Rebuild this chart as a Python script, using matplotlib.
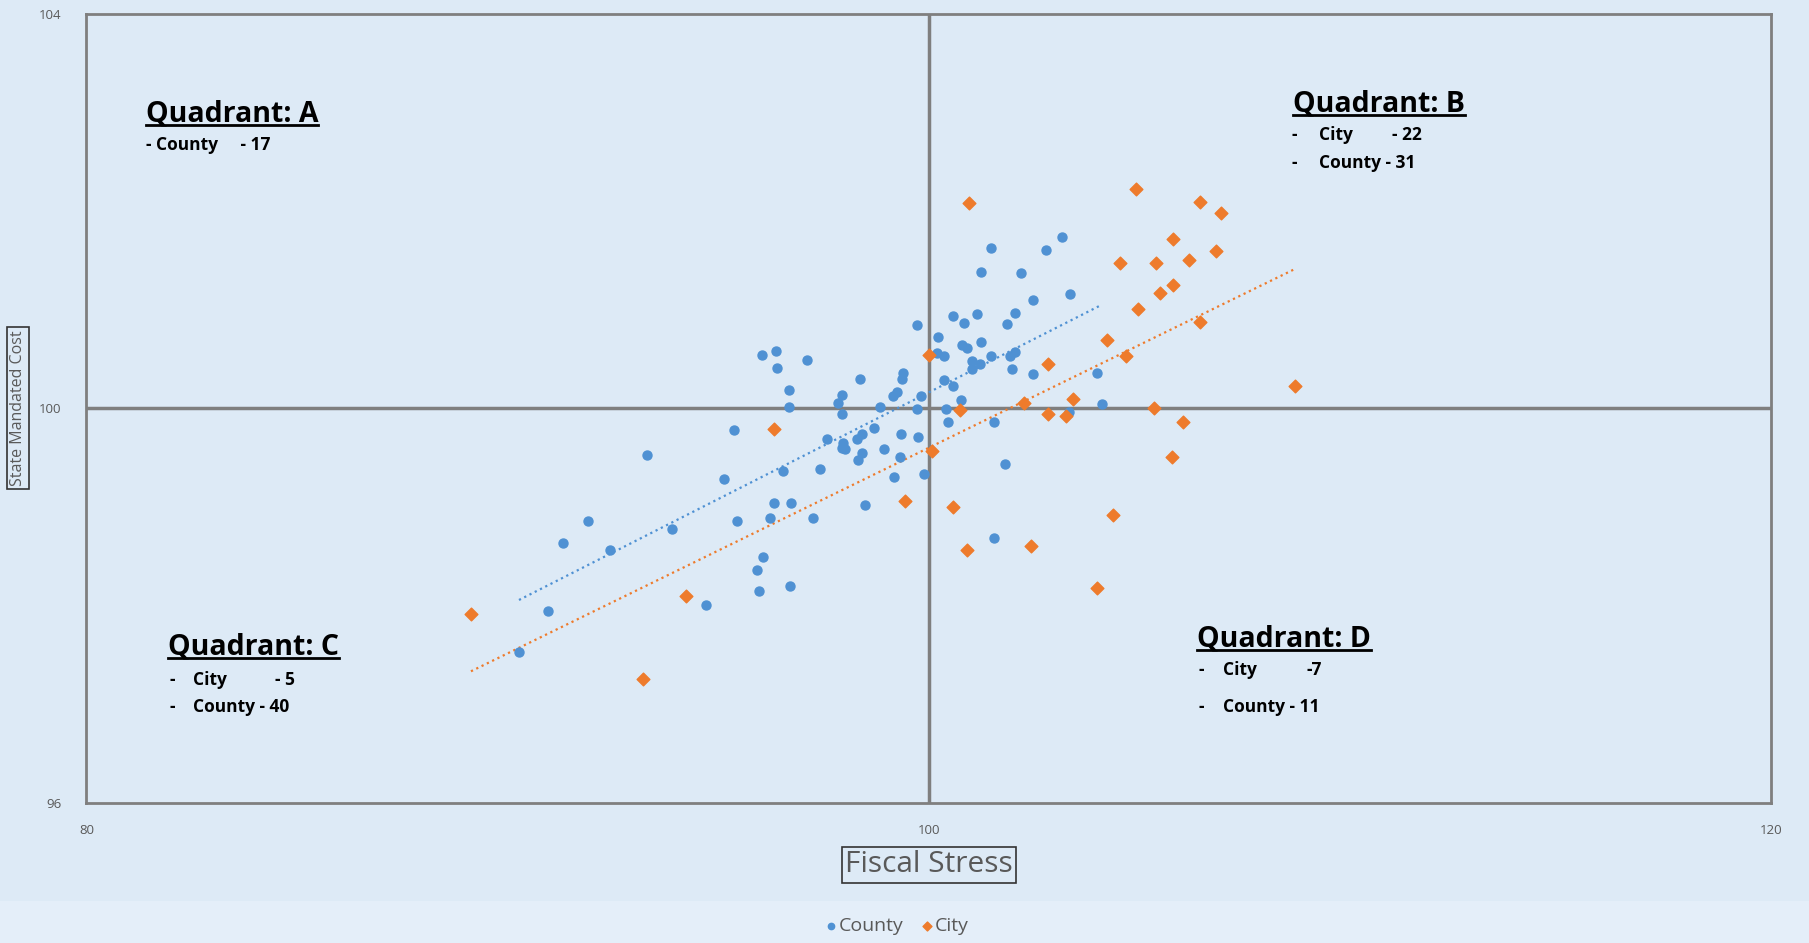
import matplotlib.pyplot as plt
import numpy as np
from matplotlib.lines import Line2D
from matplotlib.patches import Rectangle

plt.rcParams['font.family'] = ['Open Sans', 'DejaVu Sans']

# County (blue) points: fiscal stress, state mandated cost
county_x = [90.27, 90.97, 91.31, 91.92, 92.43, 93.30, 93.91, 94.71, 95.15, 95.38,
            95.45, 95.93, 95.97, 96.03, 96.06, 96.23, 96.33, 96.37, 96.40, 96.53,
            96.67, 96.68, 96.71, 96.72, 97.12, 97.26, 97.42, 97.59, 97.85, 97.93,
            97.93, 97.93, 97.97, 98.01, 98.30, 98.33, 98.37, 98.41, 98.41, 98.49,
            98.71, 98.84, 98.94, 99.14, 99.17, 99.24, 99.32, 99.33, 99.37, 99.40,
            99.71, 99.73, 99.75, 99.81, 99.89, 100.23, 100.20, 100.36, 100.36, 100.40,
            100.46, 100.57, 100.58, 100.76, 100.78, 100.84, 100.90, 101.02, 101.02, 101.14,
            101.22, 101.23, 101.23, 101.47, 101.47, 101.55, 101.55, 101.81, 101.87, 101.93,
            101.97, 102.05, 102.05, 102.18, 102.47, 102.47, 102.78, 103.16, 103.34, 103.36,
            104.00, 104.11]
county_y = [97.53, 97.95, 98.64, 98.86, 98.56, 99.53, 98.78, 98.01, 99.28, 99.78,
            98.86, 98.36, 98.15, 100.54, 98.49, 98.89, 99.04, 100.58, 100.41, 99.37,
            100.01, 100.19, 98.20, 99.04, 100.49, 98.89, 99.39, 99.69, 100.06, 100.14,
            99.94, 99.60, 99.65, 99.59, 99.69, 99.48, 100.30, 99.74, 99.55, 99.02,
            99.80, 100.01, 99.59, 100.13, 99.30, 100.17, 99.51, 99.74, 100.30, 100.36,
            100.85, 99.99, 99.71, 100.13, 99.34, 100.72, 100.56, 100.29, 100.53, 99.99,
            99.86, 100.23, 100.94, 100.09, 100.64, 100.87, 100.61, 100.48, 100.40, 100.96,
            100.45, 101.38, 100.67, 101.63, 100.53, 99.86, 98.69, 99.44, 100.86, 100.53,
            100.40, 100.97, 100.57, 101.37, 101.10, 100.35, 101.61, 101.74, 99.96, 101.16,
            100.36, 100.05]

# City (orange) points
city_x = [89.13, 93.21, 94.24, 96.33, 99.44, 100.01, 100.07, 100.58, 100.74, 100.90,
          100.96, 102.26, 102.42, 102.83, 102.83, 103.26, 103.42, 104.00, 104.24, 104.38,
          104.54, 104.68, 104.92, 104.96, 105.35, 105.39, 105.49, 105.77, 105.79, 105.81,
          106.04, 106.17, 106.44, 106.44, 106.81, 106.94, 108.70]
city_y = [97.92, 97.26, 98.10, 99.79, 99.06, 100.54, 99.57, 99.00, 99.98, 98.56,
          102.08, 100.06, 98.61, 100.45, 99.94, 99.92, 100.10, 98.18, 100.69, 98.92,
          101.47, 100.53, 102.23, 101.01, 100.00, 101.47, 101.17, 99.51, 101.72, 101.25,
          99.86, 101.51, 102.09, 100.88, 101.60, 101.98, 100.23]

x_ticks = [80, 100, 120]
y_ticks = [96, 100, 104]

BLUE = '#4F91D3'
ORANGE = '#EE7B2C'
BG = '#DDEAF6'
GRAY = '#7F7F7F'

fig = plt.figure(figsize=(18.09, 9.43), dpi=100)
fig.patch.set_facecolor(BG)
fig.add_artist(Rectangle((0, 0), 1, 0.045, transform=fig.transFigure,
                         facecolor='#E4EEF9', edgecolor='none', zorder=0))

ax = fig.add_axes([0.0478, 0.1485, 0.9312, 0.8367])
ax.set_facecolor(BG)
ax.set_xlim(80, 120)
ax.set_ylim(96, 104)

for s in ax.spines.values():
    s.set_color(GRAY)
    s.set_linewidth(2)

ax.axvline(100, color=GRAY, lw=2.5, zorder=1)
ax.axhline(100, color=GRAY, lw=2.5, zorder=1)

ax.scatter(county_x, county_y, s=42, marker='o', color=BLUE, zorder=3, label='County')
ax.scatter(city_x, city_y, s=42, marker='D', color=ORANGE, zorder=3, label='City')

# linear trendlines, as in the spreadsheet
for xs, ys, c in [(county_x, county_y, BLUE), (city_x, city_y, ORANGE)]:
    k, b = np.polyfit(xs, ys, 1)
    xx = np.array([min(xs), max(xs)])
    ax.plot(xx, k * xx + b, ls=':', lw=1.6, color=c, zorder=2)

ax.set_xticks(x_ticks)
ax.set_yticks(y_ticks)
ax.tick_params(length=0, labelsize=9.5, labelcolor='#595959')
ax.tick_params(axis='x', pad=15)
ax.tick_params(axis='y', pad=18)

# quadrant annotations (axes fraction)
def afx(px):
    return (px - 86.5) / 1684.5

def afy(py):
    return (803 - py) / 789.0

titles = []
bold = dict(fontweight='bold', color='black', transform=ax.transAxes, va='center')
TS = 20.5
SS = 12.5
titles.append(ax.text(afx(146), afy(114), 'Quadrant: A', fontsize=TS, **bold))
ax.text(afx(146), afy(145), '- County     - 17', fontsize=SS, **bold)

titles.append(ax.text(afx(1293), afy(104), 'Quadrant: B', fontsize=TS, **bold))
ax.text(afx(1292), afy(135), '-', fontsize=SS, **bold)
ax.text(afx(1319), afy(135), 'City', fontsize=SS, **bold)
ax.text(afx(1392), afy(135), '- 22', fontsize=SS, **bold)
ax.text(afx(1292), afy(163), '-', fontsize=SS, **bold)
ax.text(afx(1319), afy(163), 'County - 31', fontsize=SS, **bold)

titles.append(ax.text(afx(168), afy(647), 'Quadrant: C', fontsize=TS, **bold))
ax.text(afx(170), afy(680), '-', fontsize=SS, **bold)
ax.text(afx(193), afy(680), 'City', fontsize=SS, **bold)
ax.text(afx(275), afy(680), '- 5', fontsize=SS, **bold)
ax.text(afx(170), afy(707), '-', fontsize=SS, **bold)
ax.text(afx(193), afy(707), 'County - 40', fontsize=SS, **bold)

titles.append(ax.text(afx(1197), afy(639), 'Quadrant: D', fontsize=TS, **bold))
ax.text(afx(1199), afy(670), '-', fontsize=SS, **bold)
ax.text(afx(1223), afy(670), 'City', fontsize=SS, **bold)
ax.text(afx(1307), afy(670), '-7', fontsize=SS, **bold)
ax.text(afx(1199), afy(707), '-', fontsize=SS, **bold)
ax.text(afx(1223), afy(707), 'County - 11', fontsize=SS, **bold)

# axis titles in boxes
fig.text(929 / 1809, 1 - 865 / 943, 'Fiscal Stress', fontsize=21.5, color='#595959',
         ha='center', va='center',
         bbox=dict(boxstyle='square,pad=0.12', fc='none', ec='#333333', lw=1.2))
fig.text(18 / 1809, 1 - 408 / 943, 'State Mandated Cost', fontsize=11.5, color='#595959',
         rotation=90, ha='center', va='center',
         bbox=dict(boxstyle='square,pad=0.2', fc='none', ec='#333333', lw=1.2))

fig.legend(loc='center', bbox_to_anchor=(894 / 1809, 1 - 926 / 943), ncol=2,
           frameon=False, fontsize=14, labelcolor='#595959', handletextpad=-0.2,
           handlelength=1.2, columnspacing=0.6, markerscale=0.7)

# underline the quadrant titles
fig.canvas.draw()
r = fig.canvas.get_renderer()
inv = fig.transFigure.inverted()
for t in titles:
    bb = t.get_window_extent(r).transformed(inv)
    fig.add_artist(Line2D([bb.x0, bb.x1], [bb.y0 + 0.004, bb.y0 + 0.004],
                          transform=fig.transFigure, color='black', lw=2))

fig.savefig('out.png', dpi=100, facecolor=fig.get_facecolor())
